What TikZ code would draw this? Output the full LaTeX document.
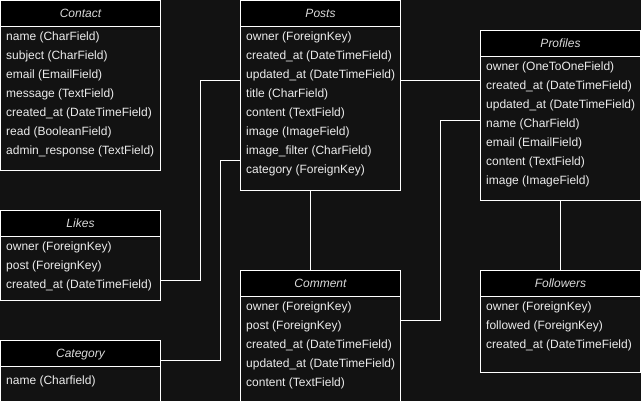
\documentclass[tikz,border=0pt]{standalone}
\usepackage{fontspec}
\setmainfont{Liberation Sans}
\definecolor{bg}{RGB}{18,18,18}
\definecolor{txt}{RGB}{236,236,236}
\definecolor{hdtxt}{RGB}{218,218,218}
\tikzset{
 tablebox/.style={draw=white, line width=1pt, fill=bg, anchor=north west, inner sep=0pt, outer sep=0pt, minimum width=160pt},
 headbox/.style={draw=white, line width=1pt, fill=black, anchor=north west, inner sep=0pt, outer sep=0pt, minimum width=160pt, minimum height=26pt},
 headtext/.style={anchor=base, inner sep=0pt, text=hdtxt, font=\fontsize{12}{14}\selectfont\itshape},
 rowtext/.style={anchor=base west, inner sep=0pt, text=txt, font=\fontsize{12}{14}\selectfont},
 link/.style={draw=white, line width=1pt}
}
\newcommand\erTable[7]{%
 \node[tablebox, minimum height=#4pt] (#1) at (#2+0.5,-#3-0.5) {};
 \node[headbox] (#1h) at (#1.north west) {};
 \node[headtext] (#1t) at ([yshift=-17.5pt]#1h.north) {#5};
 \foreach \r [count=\i] in {#6} {
   \pgfmathsetmacro\yy{-40-#7-19*(\i-1)}
   \node[rowtext] (#1r\i) at ([xshift=5.5pt, yshift=\yy pt]#1.north west) {\r};
 }
}
\begin{document}
\begin{tikzpicture}[x=1pt,y=1pt]
\useasboundingbox (0,0) rectangle (641,-401);
\clip (0,0) rectangle (641,-401);
\fill[bg] (0,0) rectangle (641,-401);

\erTable{contact}{0}{0}{170}{Contact}{name (CharField),subject (CharField),email (EmailField),message (TextField),created\_at (DateTimeField),read (BooleanField),admin\_response (TextField)}{0}
\erTable{posts}{240}{0}{190}{Posts}{owner (ForeignKey),created\_at (DateTimeField),updated\_at (DateTimeField),title (CharField),content (TextField),image (ImageField),image\_filter (CharField),category (ForeignKey)}{0}
\erTable{profiles}{480}{30}{170}{Profiles}{owner (OneToOneField),created\_at (DateTimeField),updated\_at (DateTimeField),name (CharField),email (EmailField),content (TextField),image (ImageField)}{0}
\erTable{likes}{0}{210}{90}{Likes}{owner (ForeignKey),post (ForeignKey),created\_at (DateTimeField)}{0}
\erTable{category}{0}{340}{90}{Category}{name (Charfield)}{4}
\erTable{comment}{240}{270}{150}{Comment}{owner (ForeignKey),post (ForeignKey),created\_at (DateTimeField),updated\_at (DateTimeField),content (TextField)}{0}
\erTable{followers}{480}{270}{102}{Followers}{owner (ForeignKey),followed (ForeignKey),created\_at (DateTimeField)}{0}

\draw[link] (posts.east |- 0,-80.5) -- (profiles.west |- 0,-80.5);
\draw[link] (comment.east |- 0,-320.5) -- ++(40,0) |- (profiles.west |- 0,-120.5);
\draw[link] (likes.east |- 0,-280.5) -- ++(40,0) |- (posts.west |- 0,-80.5);
\draw[link] (category.east |- 0,-360.5) -- ++(60,0) |- (posts.west |- 0,-160.5);
\draw[link] (posts.south -| 310.5,0) -- (comment.north -| 310.5,0);
\draw[link] (profiles.south -| 560.5,0) -- (followers.north -| 560.5,0);
\end{tikzpicture}
\end{document}
